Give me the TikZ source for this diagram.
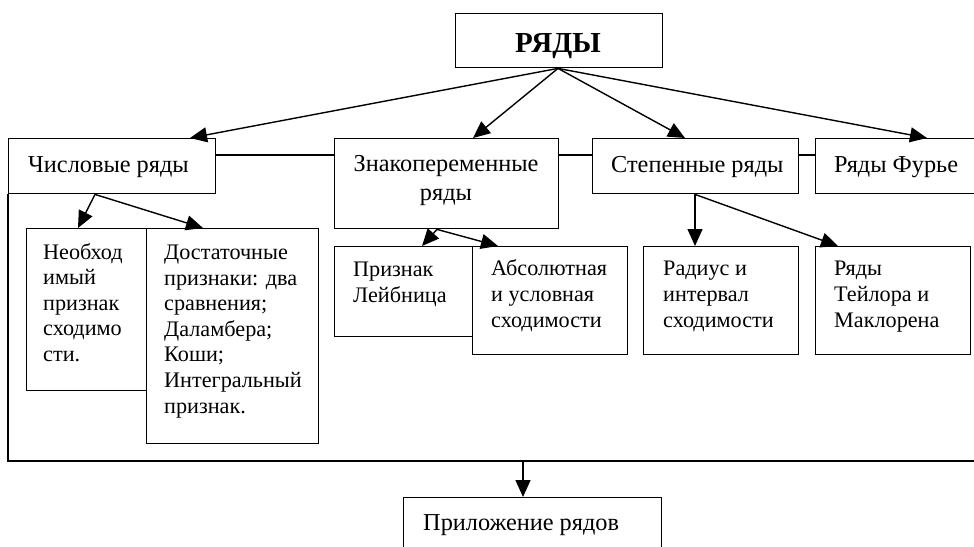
\documentclass[tikz,border=0pt]{standalone}
\usepackage{fontspec}
\setmainfont{Liberation Serif}
\usetikzlibrary{arrows.meta,calc}
\begin{document}
\begin{tikzpicture}[x=1pt,y=-1pt,
  box/.style={draw, line width=1.4pt, inner sep=0, anchor=north west},
  txt/.style={inner sep=0, anchor=base west, align=left, font=\fontsize{24.3}{28.3}\selectfont},
  subtxt/.style={inner sep=0, anchor=base west, align=left, font=\fontsize{22.2}{25.6}\selectfont},
  arr/.style={line width=1.4pt, -{Triangle[length=17pt,width=15pt]}},
  ln/.style={line width=1.4pt}]
\clip (0,0) rectangle (974,546);
\fill[white] (0,0) rectangle (974,546);
% boxes
\node[box, minimum width=207pt, minimum height=54pt] (ryady) at (455,13) {};
\node[box, minimum width=207pt, minimum height=55pt] (chis) at (8,138) {};
\node[box, minimum width=224pt, minimum height=90pt] (znak) at (334,138) {};
\node[box, minimum width=206pt, minimum height=55pt] (stepen) at (592,138) {};
\node[box, minimum width=175pt, minimum height=55pt] (fur) at (815,138) {};
\node[box, minimum width=120pt, minimum height=162pt] (neob) at (26,228) {};
\node[box, minimum width=172pt, minimum height=215pt] (dost) at (146,228) {};
\node[box, minimum width=138pt, minimum height=90pt] (leib) at (334,246) {};
\node[box, minimum width=155pt, minimum height=108pt] (abs) at (472,246) {};
\node[box, minimum width=155pt, minimum height=108pt] (rad) at (643,246) {};
\node[box, minimum width=155pt, minimum height=108pt] (tay) at (815,246) {};
\node[box, minimum width=258pt, minimum height=60pt] (pril) at (403,497) {};
% texts (base anchor = baseline of last line)
\node[txt, anchor=base, font=\bfseries\fontsize{29}{30}\selectfont] (t0) at (558,52) {РЯДЫ};
\node[txt] (t1) at (28,172) {Числовые ряды};
\node[txt, anchor=base, align=center] (t2) at (446,200) {Знакопеременные\\ряды};
\node[txt] (t3) at (611,172) {Степенные ряды};
\node[txt] (t4) at (834,172) {Ряды Фурье};
\node[subtxt] (t5) at (43,361.5) {Необход\\имый\\признак\\сходимо\\сти.};
\node[subtxt] (t6) at (164,413) {Достаточные\\признаки: два\\сравнения;\\Даламбера;\\Коши;\\Интегральный\\признак.};
\node[subtxt] (t7) at (353,302.5) {Признак\\Лейбница};
\node[subtxt] (t8) at (491,327) {Абсолютная\\и условная\\сходимости};
\node[subtxt] (t9) at (663,327) {Радиус и\\интервал\\сходимости};
\node[subtxt] (t10) at (834,327) {Ряды\\Тейлора и\\Маклорена};
\node[txt] (t11) at (423,530) {Приложение рядов};
% horizontal links
\draw[ln] ($(chis.north east)+(0,17)$) -- ($(znak.north west)+(0,17)$);
\draw[ln] ($(znak.north east)+(0,17)$) -- ($(stepen.north west)+(0,17)$);
\draw[ln] ($(stepen.north east)+(0,17)$) -- ($(fur.north west)+(0,17)$);
% arrows from top
\coordinate (o0) at ($(ryady.south west)+(103,0)$);
\draw[arr] (o0) -- ($(chis.north west)+(182,0)$);
\draw[arr] (o0) -- ($(znak.north west)+(139,0)$);
\draw[arr] (o0) -- ($(stepen.north west)+(93,0)$);
\draw[arr] (o0) -- ($(fur.north west)+(112,0)$);
% from chis
\coordinate (o1) at ($(chis.south west)+(87,0)$);
\draw[arr] (o1) -- ($(neob.north west)+(52,0)$);
\draw[arr] (o1) -- ($(dost.north west)+(57,0)$);
% from znak
\coordinate (o2) at ($(znak.south west)+(103,0)$);
\draw[arr] (o2) -- ($(leib.north west)+(88,0)$);
\draw[arr] (o2) -- ($(abs.north west)+(26,0)$);
% from stepen
\coordinate (o3) at ($(stepen.south west)+(103,0)$);
\draw[arr] (o3) -- ($(rad.north west)+(52,0)$);
\draw[arr] (o3) -- ($(tay.north west)+(23,0)$);
% frame
\coordinate (fl) at (8,461);
\coordinate (fr) at (980,461);
\coordinate (fa) at (523,461);
\draw[ln] (chis.south west) -- (fl) -- (fr);
\draw[arr] (fa) -- ($(pril.north west)+(120,0)$);
\end{tikzpicture}
\end{document}
